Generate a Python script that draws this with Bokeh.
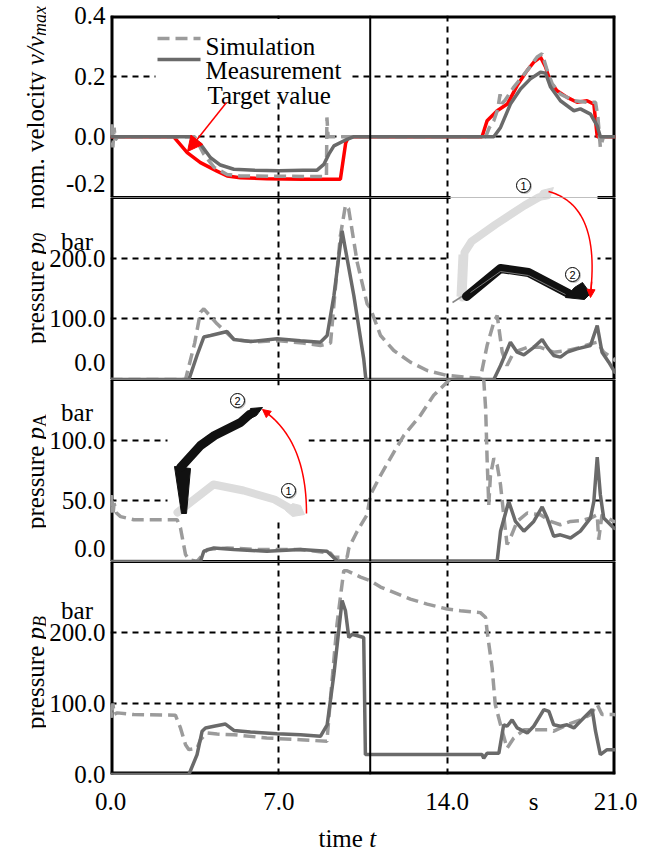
import numpy as np
from math import pi
from bokeh.plotting import figure
from bokeh.layouts import column, row
from bokeh.models import FixedTicker, Span, Arrow, NormalHead, CustomJSTickFormatter
from bokeh.embed import file_html
from bokeh.resources import INLINE
from bokeh.core.properties import value

# ---------------- data ----------------
# Panel 1: normalised velocity
tgt_t = [0, 2.63, 3.19, 3.74, 4.43, 4.85, 5.4, 6.5, 8.0, 9.56, 9.78, 9.9, 14.0, 15.45, 15.66,
         16.08, 16.5, 16.91, 17.33, 17.6, 17.88, 18.09, 18.3, 18.57, 18.99, 19.4, 19.82, 20.1, 20.24, 21.0]
tgt_v = [0, 0, -0.052, -0.085, -0.113, -0.129, -0.135, -0.138, -0.14, -0.14, -0.02, 0, 0, 0, 0.053,
         0.086, 0.108, 0.169, 0.219, 0.246, 0.263, 0.23, 0.18, 0.152, 0.13, 0.114, 0.119, 0.108, 0, 0]

vsim_t = [0, 0.05, 0.1, 0.15, 0.2, 0.3, 3.5, 3.88, 4.3, 4.85, 5.4, 7.0, 8.98, 9.0, 9.05, 10.5,
          15.6, 15.75, 15.94, 16.1, 16.2, 16.28, 16.4, 16.77, 17.33, 17.74, 17.95, 18.16, 18.37,
          18.71, 19.27, 19.82, 20.17, 20.27, 20.37, 20.5, 21.0]
vsim_v = [0, 0.05, -0.035, 0.03, -0.01, 0, 0, -0.057, -0.10, -0.124, -0.129, -0.13, -0.131, 0.064, 0.0, 0,
          0, 0.03, 0.053, 0.09, 0.14, 0.11, 0.12, 0.164, 0.219, 0.263, 0.274, 0.219, 0.175,
          0.141, 0.119, 0.114, 0.114, 0.064, -0.035, 0, 0]

vmeas_t = [0, 3.33, 3.74, 4.16, 4.57, 5.13, 6.0, 7.0, 8.0, 8.59, 8.87, 9.08, 9.29, 9.84, 10.1,
           15.94, 16.22, 16.63, 17.05, 17.46, 17.88, 18.09, 18.3, 18.71, 19.27, 19.54, 19.96, 20.24, 20.37, 21.0]
vmeas_v = [0, 0, -0.024, -0.069, -0.093, -0.107, -0.11, -0.112, -0.11, -0.11, -0.091, -0.057, -0.03, -0.008, 0,
           0, 0.031, 0.108, 0.158, 0.191, 0.213, 0.21, 0.164, 0.119, 0.086, 0.092, 0.075, 0.036, 0, 0]

# Panel 2: pressure p0 (bar)
p0sim_t = [0, 3.12, 3.5, 3.74, 3.88, 4.43, 5.13, 6.0, 7.0, 8.0, 8.73, 9.15, 9.35, 9.56, 9.77, 9.9,
           10.26, 10.67, 10.81, 11.23, 11.78, 12.47, 13.17, 14.0, 15.38, 15.66, 15.94, 16.08, 16.29,
           16.49, 16.77, 17.33, 17.88, 18.43, 18.99, 19.54, 19.96, 20.24, 20.51, 20.93, 21.0]
p0sim_p = [0, 0, 60, 111, 116.5, 91.8, 66, 62, 64, 60, 56, 60, 150, 237, 287, 282,
           193, 125, 117, 72.5, 47.8, 28.6, 14.8, 6.6, 2, 56, 94.5, 105.5, 45,
           23, 45, 53, 53, 45, 47.8, 53, 58.8, 61.5, 45, 34, 30]

p0meas_t = [0, 3.26, 3.6, 3.88, 4.16, 4.85, 5.13, 5.82, 6.93, 7.9, 8.73, 9.01, 9.29, 9.63, 10.12,
            10.53, 10.62, 15.94, 16.22, 16.63, 16.91, 17.19, 17.6, 17.95, 18.16, 18.43, 18.71, 18.99,
            19.4, 19.96, 20.24, 20.44, 20.72, 21.0]
p0meas_p = [0, 0, 40, 70, 72.5, 79, 66, 62.6, 67, 63.7, 61.5, 72.5, 138, 245, 138,
            34, 0, 0, 23, 61.5, 45, 40.7, 53, 66, 53, 39.6, 36.8, 45,
            50.5, 56, 89, 45, 28.6, 10]

# Panel 3: pressure pA (bar)
pAsim_t = [0, 0.05, 0.1, 0.15, 0.25, 0.42, 0.97, 2.77, 2.91, 3.12, 3.26, 3.6, 4.02, 4.85, 6.0, 7.9,
           9.15, 9.29, 9.84, 9.91, 10.26, 10.67, 10.81, 11.23, 11.78, 12.2, 12.89, 13.44, 14.0, 14.5,
           15.0, 15.5, 15.6, 15.66, 15.73, 15.8, 15.94, 16.08, 16.22, 16.35, 16.49, 16.63, 16.91,
           17.33, 17.88, 18.3, 18.71, 19.13, 19.54, 19.96, 20.24, 20.3, 20.44, 20.93, 21.0]
pAsim_p = [45, 55, 38, 48, 40, 37, 34.4, 34.4, 27.6, 5.7, 1.6, 0, 9.8, 11.2, 10, 9.8,
           7, 3.5, 3.5, 11, 25, 38.5, 55, 71, 90, 104, 120.5, 137, 148, 155,
           157, 156, 126, 85, 46.7, 71, 85, 79.5, 63, 38.5, 14, 19.4, 33,
           40, 38.5, 33, 30.3, 33, 33.6, 35.8, 38.5, 18, 38.5, 33, 33]

pAmeas_t = [0, 3.74, 3.88, 4.3, 5.13, 6.5, 7.9, 9.0, 9.29, 9.43, 16.08, 16.22, 16.56, 16.84, 17.19,
            17.6, 17.95, 18.16, 18.43, 18.71, 19.13, 19.54, 19.96, 20.1, 20.24, 20.37, 20.51, 20.93, 21.0]
pAmeas_p = [0, 0, 8.5, 11.2, 9.8, 8.5, 9.8, 8.5, 3, 0.5, 0.5, 25, 49.5, 33, 25,
            33, 45, 35.8, 20.8, 22, 19.4, 25, 35.8, 49.5, 86, 55, 35.8, 27.6, 27]

# Panel 4: pressure pB (bar)
pBsim_t = [0, 0.05, 0.1, 0.15, 0.28, 0.97, 2.7, 2.91, 3.12, 3.26, 3.6, 3.74, 4.02, 4.43, 5.13, 6.5,
           7.9, 9.0, 9.15, 9.42, 9.7, 9.84, 10.4, 10.81, 11.23, 11.78, 12.47, 13.17, 14.0, 14.55,
           15.38, 15.6, 15.66, 15.87, 16.0, 16.22, 16.49, 16.77, 17.19, 17.6, 18.16, 18.43, 18.99,
           19.54, 19.96, 20.24, 20.44, 20.93, 21.0]
pBsim_p = [95, 80, 100, 85, 86.8, 84.4, 83.5, 65.6, 42, 35, 37, 49, 58.5, 57, 56, 51.4,
           49, 46.7, 108, 212, 287, 287, 278, 273, 264, 256.6, 247, 240, 233, 230.7,
           228, 221, 202, 150, 98.6, 70, 37, 51.4, 63, 63, 63, 61, 70,
           77, 84.4, 98.6, 84.4, 84.4, 84]

pBmeas_t = [0, 3.26, 3.6, 3.81, 3.95, 4.3, 4.78, 5.13, 5.82, 6.93, 7.9, 8.73, 9.01, 9.29, 9.63,
            9.77, 9.91, 10.05, 10.53, 10.6, 15.45, 15.52, 15.66, 16.15, 16.35, 16.49, 16.7, 16.91,
            17.33, 17.6, 18.02, 18.23, 18.43, 18.71, 18.99, 19.27, 19.54, 20.03, 20.17, 20.37,
            20.65, 20.93, 21.0]
pBmeas_p = [0, 0, 28, 61, 65.6, 68, 71, 62, 60, 57.5, 56, 53.8, 70, 141, 245,
            230.7, 193, 197.6, 193, 28, 28, 23, 30, 30, 70, 68, 77, 65.6,
            58.5, 68, 91.5, 89, 70, 68, 70, 65.6, 75, 91.5, 61, 28,
            35, 35, 35]

# axes: grid lines, tick values, units
x_ticks = [0.0, 7.0, 14.0, 21.0]
x_unit_t = 17.6
x_grid = [7.0, 14.0]
y_grid = [[0.0, 0.2], [100.0, 200.0], [50.0, 100.0], [100.0, 200.0]]
y_ticks = [[0.0, 0.2, 0.4], [100.0, 200.0], [50.0, 100.0], [0.0, 100.0, 200.0]]
y_bottom_text = ["-0.2", "0.0", "0.0", None]
y_units = [None, "bar", "bar", "bar"]
phase_switch_t = 10.8

# ---------------- layout constants ----------------
FONT = "Liberation Serif"
PAGE_W, PAGE_H = 663, 848
STRIP = 46                 # left strip holding the rotated axis titles
FL, FW = 110, 505          # frame left edge (page px) and frame width
XMAX = 21.0
BOTTOM_STRIP = 30
panels = [
    dict(top=15, h=182, lo=-0.2, hi=0.4),
    dict(top=197, h=182, lo=0.0, hi=300.0),
    dict(top=379, h=182, lo=0.0, hi=150.0),
    dict(top=561, h=213, lo=0.0, hi=300.0),
]
MAIN_W = PAGE_W - STRIP
BL = FL - STRIP
BR = MAIN_W - BL - FW
BOTTOM_BORDER = PAGE_H - BOTTOM_STRIP - (panels[3]['top'] + panels[3]['h'])


def tx(x):
    return (x - FL) / FW * XMAX


def ty(k, y):
    pk = panels[k]
    return pk['lo'] + (pk['top'] + pk['h'] - y) / pk['h'] * (pk['hi'] - pk['lo'])


SIM = dict(line_color="#9b9b9b", line_width=3.5, line_dash="12 6")
MEAS = dict(line_color="#6a6a6a", line_width=3.5)
TGT = dict(line_color="#ff0000", line_width=3.5)


def make_fmt(special):
    return CustomJSTickFormatter(
        args=dict(sp_t=[a for a, b in special], sp_s=[b for a, b in special]),
        code="""
  for (let i = 0; i < sp_t.length; i++) {
    if (Math.abs(tick - sp_t[i]) < 1e-6) { return sp_s[i]; }
  }
  if (Math.abs(tick) < 1e-9) { return "0.0"; }
  return tick.toFixed(1);
""")


# positions (page px) of the lifted bottom labels and the unit labels
bottom_label_y = [183, 362, 548, None]
unit_label_y = [None, 241, 412, 610]
NB = "\u00a0\u00a0"

figs = []
for k, pk in enumerate(panels):
    last = k == 3
    p = figure(frame_width=FW, frame_height=pk['h'],
               min_border_left=BL, min_border_right=BR,
               min_border_top=(15 if k == 0 else 0), min_border_bottom=(BOTTOM_BORDER if last else 0),
               x_range=(0, XMAX), y_range=(pk['lo'], pk['hi']),
               x_axis_location=("below" if last else None),
               output_backend="svg", toolbar_location=None)
    p.outline_line_color = None
    p.background_fill_color = "white"
    p.border_fill_color = "white"
    p.xgrid.ticker = FixedTicker(ticks=x_grid)
    p.ygrid.ticker = FixedTicker(ticks=y_grid[k])
    for g in list(p.xgrid) + list(p.ygrid):
        g.grid_line_color = "black"
        g.grid_line_width = 2
        g.grid_line_dash = "6 5"
    special = []
    ticks = list(y_ticks[k])
    if bottom_label_y[k] is not None:
        special.append((ty(k, bottom_label_y[k]), y_bottom_text[k]))
    if unit_label_y[k] is not None:
        special.append((ty(k, unit_label_y[k]), y_units[k] + NB))
    ticks += [a for a, b in special]
    ax = p.yaxis[0]
    ax.ticker = FixedTicker(ticks=ticks)
    ax.formatter = make_fmt(special)
    ax.axis_line_color = None
    ax.major_tick_line_color = None
    ax.minor_tick_line_color = None
    ax.major_tick_out = 0
    ax.major_tick_in = 0
    ax.minor_tick_out = 0
    ax.axis_label_standoff = 0
    ax.major_label_text_font = FONT
    ax.major_label_text_font_size = "25px"
    ax.major_label_text_color = "black"
    ax.major_label_standoff = 5
    # frame: outer edges 3 px, inner dividers 1.5 px on each side
    top_w = 6 if k == 0 else 3
    bot_w = 6 if last else 3
    p.line([0, 0], [pk['lo'], pk['hi']], line_color="black", line_width=6)
    p.line([XMAX, XMAX], [pk['lo'], pk['hi']], line_color="black", line_width=6)
    p.line([0, XMAX], [pk['hi'], pk['hi']], line_color="black", line_width=top_w)
    p.line([0, XMAX], [pk['lo'], pk['lo']], line_color="black", line_width=bot_w)
    figs.append(p)

f1, f2, f3, f4 = figs

xa = f4.xaxis[0]
xa.ticker = FixedTicker(ticks=x_ticks + [x_unit_t])
xa.formatter = make_fmt([(x_unit_t, "s")])
xa.axis_line_color = None
xa.major_tick_line_color = None
xa.minor_tick_line_color = None
xa.major_tick_out = 0
xa.major_tick_in = 0
xa.minor_tick_out = 0
xa.axis_label_standoff = 0
xa.major_label_text_font = FONT
xa.major_label_text_font_size = "25px"
xa.major_label_text_color = "black"
xa.major_label_standoff = 13

# ---------------- insets (white backgrounds cover grid and frame) ----------------
for k in (0, 1):
    figs[k].quad(left=tx(450), right=tx(597), top=ty(k, 178), bottom=ty(k, 300),
                 fill_color="white", line_color=None)
f3.quad(left=tx(167), right=tx(308), top=ty(2, 385), bottom=ty(2, 518),
        fill_color="white", line_color=None)
# legend background (keeps the top frame line)
f1.quad(left=tx(155), right=tx(348), top=ty(0, 18.5), bottom=ty(0, 97), fill_color="white", line_color=None)

# ---------------- series ----------------
f1.line(tgt_t, tgt_v, **TGT)
f1.line(vsim_t, vsim_v, **SIM)
f1.line(vmeas_t, vmeas_v, **MEAS)
f2.line(p0sim_t, p0sim_p, **SIM)
f2.line(p0meas_t, p0meas_p, **MEAS)
f3.line(pAsim_t, pAsim_p, **SIM)
f3.line(pAmeas_t, pAmeas_p, **MEAS)
f4.line(pBsim_t, pBsim_p, **SIM)
f4.line(pBmeas_t, pBmeas_p, **MEAS)

for p in figs:
    p.add_layout(Span(location=phase_switch_t, dimension="height", line_color="black", line_width=2))


# ---------------- illustrations ----------------
def pl(ks, pts, **kw):
    xs = [tx(a) for a, b in pts]
    for k in ks:
        figs[k].line(xs, [ty(k, b) for a, b in pts], **kw)


def pg(ks, pts, **kw):
    xs = [tx(a) for a, b in pts]
    for k in ks:
        figs[k].patch(xs, [ty(k, b) for a, b in pts], **kw)


def badge(k, x, y, txt):
    figs[k].scatter([tx(x + 1)], [ty(k, y + 1)], marker="circle", size=15, fill_color="#bbbbbb",
                    line_color=None)
    figs[k].scatter([tx(x)], [ty(k, y)], marker="circle", size=14, fill_color="white",
                    line_color="black", line_width=1)
    figs[k].text([tx(x)], [ty(k, y)], text=[txt], text_align="center", text_baseline="middle",
                 text_font=value("Liberation Sans"), text_font_size="11px", text_color="black")


def bez(p0, c, p1, n=30):
    s = np.linspace(0, 1, n)
    xs = (1 - s) ** 2 * p0[0] + 2 * (1 - s) * s * c[0] + s ** 2 * p1[0]
    ys = (1 - s) ** 2 * p0[1] + 2 * (1 - s) * s * c[1] + s ** 2 * p1[1]
    return list(zip(xs, ys))


GREY_ARM = "#dcdcdc"
# inset A
pl((0, 1), [(462, 297), (464, 252), (471, 241), (495, 224), (524, 205), (538, 197)],
   line_color=GREY_ARM, line_width=8, line_join="round", line_cap="round")
pl((1,), [(458, 296), (460, 254)], line_color=GREY_ARM, line_width=4)
pg((0, 1), [(533, 201), (541, 190), (553, 187), (549, 198)], fill_color=GREY_ARM, line_color=GREY_ARM)
pl((1,), [(452, 302), (474, 288)], line_color="#888888", line_width=1.5)
pl((1,), [(466, 296), (500, 268), (528, 272), (568, 293)],
   line_color="#111111", line_width=9, line_join="round", line_cap="round")
pl((1,), [(470, 292), (500, 271), (528, 275), (565, 294)], line_color="#777777", line_width=1)
pg((1,), [(565, 297), (574, 287), (582, 282), (590, 293), (584, 299)], fill_color="#111111", line_color="#111111")
arcA = bez((548, 191), (600, 205), (590, 293))
pl((0, 1), arcA, line_color="red", line_width=1.5)
f2.add_layout(Arrow(end=NormalHead(size=8, fill_color="red", line_color="red"),
                    x_start=tx(arcA[-3][0]), y_start=ty(1, arcA[-3][1]),
                    x_end=tx(590), y_end=ty(1, 297), line_color="red", line_width=1.5))
badge(0, 523, 185, "1")
badge(1, 572, 274, "2")

# inset B
pl((2,), [(177, 512), (213, 484), (243, 490), (274, 499), (288, 507)],
   line_color=GREY_ARM, line_width=8, line_join="round", line_cap="round")
pg((2,), [(285, 510), (292, 503), (300, 505), (304, 514), (292, 516)], fill_color=GREY_ARM, line_color=GREY_ARM)
pg((2,), [(181, 513), (186, 513), (190, 468), (174, 466)], fill_color="#111111", line_color="#111111")
pl((2,), [(180, 467), (200, 445), (214, 435), (240, 422), (249, 414)],
   line_color="#111111", line_width=9, line_join="round", line_cap="round")
pg((2,), [(246, 420), (250, 408), (262, 407), (256, 415)], fill_color="#111111", line_color="#111111")
arcB = bez((306, 513), (306, 440), (263, 410))
pl((2,), arcB, line_color="red", line_width=1.5)
f3.add_layout(Arrow(end=NormalHead(size=8, fill_color="red", line_color="red"),
                    x_start=tx(arcB[-3][0]), y_start=ty(2, arcB[-3][1]),
                    x_end=tx(262), y_end=ty(2, 409), line_color="red", line_width=1.5))
badge(2, 237, 400, "2")
badge(2, 288, 490, "1")

# ---------------- legend ----------------
f1.line([tx(157), tx(200)], [ty(0, 38)] * 2, **SIM)
f1.line([tx(157), tx(200)], [ty(0, 59)] * 2, **MEAS)
for txt, yb, xl in (("Simulation", 46, 205), ("Measurement", 70, 205), ("Target value", 95, 207)):
    f1.text([tx(xl)], [ty(0, yb)], text=[txt], text_font=value(FONT), text_font_size="25px",
            text_baseline="alphabetic", text_align="left", text_color="black")
f1.add_layout(Arrow(end=NormalHead(size=15, fill_color="red", line_color="red"),
                    x_start=tx(226), y_start=ty(0, 102), x_end=tx(187), y_end=ty(0, 151),
                    line_color="red", line_width=1.5))

# ---------------- axis titles (left strip and bottom strip, page-pixel coordinates) ----------------
left = figure(width=STRIP, height=PAGE_H, x_range=(0, STRIP), y_range=(0, PAGE_H),
              x_axis_location=None, y_axis_location=None, min_border=0,
              output_backend="svg", toolbar_location=None)
left.outline_line_color = None
left.grid.visible = False

bottom = figure(width=MAIN_W, height=BOTTOM_STRIP, x_range=(STRIP, PAGE_W), y_range=(0, BOTTOM_STRIP),
                x_axis_location=None, y_axis_location=None, min_border=0,
                output_backend="svg", toolbar_location=None)
bottom.outline_line_color = None
bottom.grid.visible = False

WR = {' ': 250, '.': 250, '/': 278, 'a': 444, 'b': 500, 'c': 444, 'e': 444, 'i': 278, 'l': 278,
      'm': 778, 'n': 500, 'o': 500, 'p': 500, 'r': 333, 's': 389, 't': 278, 'u': 500, 'v': 500,
      'x': 500, 'y': 500, 'A': 722, 'B': 667, '0': 500}
WI = {'v': 444, '/': 278, 'p': 500, 'm': 722, 'a': 500, 'x': 444, '0': 500, 'A': 611, 'B': 611, 't': 278}


def tw(s, sz, it):
    tbl = WI if it else WR
    return sum(tbl.get(c, 500) for c in s) * sz / 1000.0


def ylabel(segs, center, xbase=35):
    total = sum(tw(s, sz, it) for s, sz, it, sh in segs)
    y = center + total / 2
    for s, sz, it, sh in segs:
        left.text([xbase + sh], [PAGE_H - y], text=[s], angle=pi / 2, text_align="left",
                  text_baseline="alphabetic", text_font=value(FONT), text_font_size=f"{sz}px",
                  text_font_style=("italic" if it else "normal"), text_color="black")
        y -= tw(s, sz, it)


ylabel([("nom. velocity ", 25, False, 0), ("v/v", 25, True, 0), ("max", 18, True, 4)], 107)
ylabel([("pressure ", 25, False, 0), ("p", 25, True, 0), ("0", 18, True, 4)], 288)
ylabel([("pressure ", 25, False, 0), ("p", 25, True, 0), ("A", 18, False, 4)], 471)
ylabel([("pressure ", 25, False, 0), ("p", 25, True, 0), ("B", 18, True, 4)], 672)

bottom.text([362], [PAGE_H - 838], text=["time "], text_align="right", text_baseline="alphabetic",
            text_font=value(FONT), text_font_size="25px", text_color="black")
bottom.text([362], [PAGE_H - 838], text=["t"], text_align="left", text_baseline="alphabetic",
            text_font=value(FONT), text_font_size="25px", text_font_style="italic", text_color="black")

layout = row(left, column(*figs, bottom, spacing=0), spacing=0)
open("out.html", "w").write(file_html(layout, INLINE))
